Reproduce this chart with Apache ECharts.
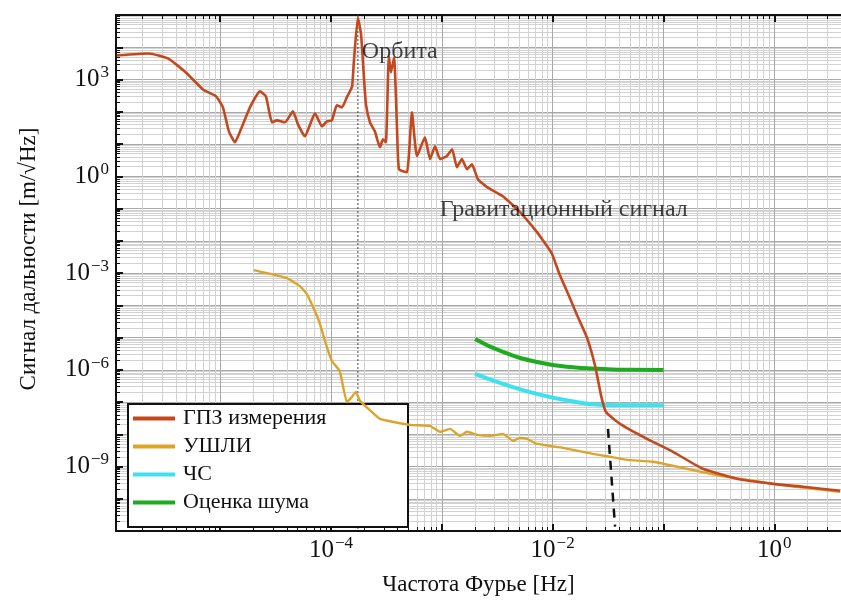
<!DOCTYPE html>
<html><head><meta charset="utf-8">
<script src="https://cdn.jsdelivr.net/npm/echarts@6/dist/echarts.min.js"></script>
<style>html,body{margin:0;padding:0;background:#fff}#c{width:841px;height:601px}</style>
</head><body><div id="c"></div>
<script>
// ---- data ----
const gpzFreq = [1.17e-6, 2.28e-6, 3.38e-6, 4.91e-6, 7.0e-6, 9.2e-6, 1.06e-5, 1.2e-5, 1.36e-5, 1.54e-5, 1.86e-5, 2.29e-5, 2.59e-5, 2.94e-5, 3.26e-5, 3.85e-5, 4.54e-5, 5.04e-5, 5.82e-5, 7.18e-5, 8.3e-5, 9.2e-5, 1.02e-4, 1.13e-4, 1.26e-4, 1.39e-4, 1.55e-4, 1.61e-4, 1.75e-4, 1.87e-4, 1.99e-4, 2.07e-4, 2.25e-4, 2.49e-4, 2.77e-4, 2.94e-4, 3.13e-4, 3.33e-4, 3.48e-4, 3.71e-4, 3.95e-4, 4.11e-4, 4.85e-4, 5.38e-4, 5.97e-4, 7.05e-4, 7.83e-4, 8.69e-4, 9.64e-4, 1.11e-3, 1.24e-3, 1.37e-3, 1.52e-3, 1.69e-3, 1.87e-3, 2.12e-3, 2.56e-3, 3.56e-3, 5.08e-3, 7.23e-3, 8.5e-3, 9.89e-3, 1.15e-2, 1.4e-2, 1.66e-2, 2.04e-2, 2.42e-2, 2.74e-2, 3.03e-2, 4.06e-2, 7.11e-2, 0.122, 0.227, 0.461, 0.975, 1.82, 3.93];
const gpzVal = [5.6e3, 6.4e3, 4.5e3, 1.66e3, 493, 300, 137, 24.7, 11.3, 28.5, 137, 428, 300, 47, 54, 47, 103, 40.7, 17.3, 89, 35.3, 50, 54, 158, 137, 279, 611, 3.6e3, 8.4e4, 2.5e4, 1.0e3, 170, 47, 24.7, 7.9, 14, 11.3, 5.2e3, 1.66e3, 4.8e3, 28.5, 1.65, 1.33, 96, 4.2, 16.1, 3.4, 8.5, 3.4, 4.2, 6.9, 1.9, 3.4, 1.65, 2.35, 0.81, 0.46, 0.24, 0.077, 0.0185, 8.5e-3, 3.9e-3, 9.5e-4, 2.0e-4, 5.0e-5, 1.0e-5, 1.31e-6, 1.55e-7, 4.9e-8, 2.1e-8, 7.2e-9, 2.85e-9, 8.5e-10, 4.2e-10, 2.9e-10, 2.35e-10, 1.77e-10];

const ushliFreq = [2.02e-5, 4.01e-5, 5.25e-5, 6.07e-5, 7.03e-5, 7.96e-5, 9.0e-5, 1.02e-4, 1.2e-4, 1.39e-4, 1.52e-4, 1.68e-4, 1.83e-4, 2.77e-4, 5.16e-4, 7.83e-4, 9.64e-4, 1.19e-3, 1.46e-3, 1.69e-3, 2.08e-3, 2.72e-3, 3.56e-3, 4.40e-3, 5.08e-3, 5.87e-3, 7.23e-3, 1.24e-2, 2.32e-2, 3.3e-2, 4.69e-2, 8.05e-2, 0.163, 0.324, 0.644, 1.31, 3.93];
const ushliVal = [1.23e-3, 6.95e-4, 3.93e-4, 2.22e-4, 7.6e-5, 2.62e-5, 6.3e-6, 1.87e-6, 9.2e-7, 1.0e-7, 1.34e-7, 2.06e-7, 1.08e-7, 3.0e-8, 1.95e-8, 1.82e-8, 1.19e-8, 1.47e-8, 8.9e-9, 1.19e-8, 9.6e-9, 8.9e-9, 1.03e-8, 6.25e-9, 7.7e-9, 7.2e-9, 5.0e-9, 3.8e-9, 2.47e-9, 2.0e-9, 1.61e-9, 1.4e-9, 8.5e-10, 5.15e-10, 3.6e-10, 2.52e-10, 1.65e-10];

const estFreq = [2e-3, 3.56e-3, 7.23e-3, 1.44e-2, 2.85e-2, 5e-2, 0.1];
const noiseVal = [9.0e-6, 3.56e-6, 1.74e-6, 1.22e-6, 1.06e-6, 1.0e-6, 9.9e-7];
const chsVal = [7.4e-7, 3.63e-7, 1.78e-7, 1.08e-7, 8.1e-8, 8.0e-8, 8.0e-8];

const orbitFreq = [1.75e-4, 1.75e-4];
const orbitVal = [1e5, 1e-11];
const cutFreq = [0.0316, 0.0366];
const cutVal = [1.47e-8, 1.36e-11];

const seriesNames = ['ГПЗ измерения', 'УШЛИ', 'ЧС', 'Оценка шума'];
const annotations = [
  {text: 'Орбита', freq: 1.9e-4, val: 7.4e3},
  {text: 'Гравитационный сигнал', freq: 9.6e-4, val: 0.095}
];

const xMin = 1.15e-6, xMax = 4.0, yMin = 1e-11, yMax = 1e5;
const xMajorTicks = [1e-6, 1e-5, 1e-4, 1e-3, 1e-2, 1e-1, 1];
const xLabelTicks = [1e-4, 1e-2, 1];
const yMajorTicks = [1e-11, 1e-10, 1e-9, 1e-8, 1e-7, 1e-6, 1e-5, 1e-4, 1e-3, 1e-2, 1e-1, 1, 1e1, 1e2, 1e3, 1e4, 1e5];
const yLabelTicks = [1e-9, 1e-6, 1e-3, 1, 1e3];

function minorTicks(lo, hi, eLo, eHi) {
  const out = [];
  for (let e = eLo; e <= eHi; e++) {
    for (let m = 2; m <= 9; m++) {
      const v = m * Math.pow(10, e);
      if (v >= lo && v <= hi) out.push(v);
    }
  }
  return out;
}
const xMinorTicks = minorTicks(xMin, xMax, -6, 0);
const yMinorTicks = minorTicks(yMin, yMax, -11, 4);

// ---- chart ----
const SERIF = '"Liberation Serif", "DejaVu Serif", serif';
const COLORS = ['#c4481e', '#dca52a', '#3ee2ef', '#1fab1f'];

function powLabel(v) {
  const e = Math.round(Math.log10(v));
  const s = e < 0 ? '\u2212' + (-e) : String(e);
  return '{b|10}{s|' + s + '}';
}
const richLbl = {
  b: {fontSize: 25, fontFamily: SERIF, color: '#111'},
  s: {fontSize: 17, fontFamily: SERIF, color: '#111', padding: [0, 0, 13, 1]}
};

function xAxisDef(pos, major) {
  return {
    type: 'log', position: pos, min: xMin, max: xMax, gridIndex: 0,
    axisLine: {show: major, lineStyle: {color: '#111', width: 2}},
    axisTick: {show: true, inside: true, length: major ? 7 : 4,
      customValues: major ? xMajorTicks : xMinorTicks,
      lineStyle: {color: '#111', width: major ? 2 : 1}},
    minorTick: {show: false},
    splitLine: {show: pos === 'bottom', lineStyle: {color: major ? '#a9a9a9' : '#d2d2d2', width: 1}},
    minorSplitLine: {show: false},
    axisLabel: major && pos === 'bottom' ? {
      show: true, customValues: xLabelTicks, formatter: powLabel, rich: richLbl, margin: 4
    } : {show: false},
    name: major && pos === 'bottom' ? 'Частота Фурье [Hz]' : '',
    nameLocation: 'middle', nameGap: 42,
    nameTextStyle: {fontFamily: SERIF, fontSize: 23, color: '#111'}
  };
}
function yAxisDef(major) {
  return {
    type: 'log', position: 'left', min: yMin, max: yMax, gridIndex: 0,
    axisLine: {show: major, lineStyle: {color: '#111', width: 2}},
    axisTick: {show: true, inside: true, length: major ? 7 : 4,
      customValues: major ? yMajorTicks : yMinorTicks,
      lineStyle: {color: '#111', width: major ? 2 : 1}},
    minorTick: {show: false},
    splitLine: {show: true, lineStyle: {color: major ? '#a9a9a9' : '#d2d2d2', width: 1}},
    minorSplitLine: {show: false},
    axisLabel: major ? {
      show: true, customValues: yLabelTicks, formatter: powLabel, rich: richLbl, margin: 7
    } : {show: false},
    name: major ? 'Сигнал дальности [m/√Hz]' : '',
    nameLocation: 'middle', nameGap: 76, nameRotate: 90,
    nameTextStyle: {fontFamily: SERIF, fontSize: 23, color: '#111', padding: [0, 0, 0, 28]}
  };
}

function zip(a, b) { return a.map((v, i) => [v, b[i]]); }

const chart = echarts.init(document.getElementById('c'), null, {renderer: 'canvas'});
chart.setOption({
  backgroundColor: '#fff',
  animation: false,
  grid: {left: 116, top: 15, right: 0, bottom: 69, containLabel: false},
  xAxis: [xAxisDef('bottom', false), xAxisDef('bottom', true), xAxisDef('top', false), xAxisDef('top', true)],
  yAxis: [yAxisDef(false), yAxisDef(true)],
  legend: {
    data: seriesNames, orient: 'vertical', left: 128, top: 404,
    icon: 'rect', itemWidth: 42, itemHeight: 4, itemGap: 5,
    backgroundColor: '#fff', borderColor: '#111', borderWidth: 2, borderRadius: 0,
    padding: [3, 8, 13, 5],
    textStyle: {fontFamily: SERIF, fontSize: 22, color: '#111', lineHeight: 23, width: 217, padding: [0, 0, 0, 3]}
  },
  series: [
    {name: 'orbitLine', type: 'line', xAxisIndex: 1, yAxisIndex: 1, data: zip(orbitFreq, orbitVal),
      symbol: 'none', silent: true, lineStyle: {color: '#444', width: 1, type: [2, 2]}, z: 3},
    {name: seriesNames[0], type: 'line', xAxisIndex: 1, yAxisIndex: 1, data: zip(gpzFreq, gpzVal),
      symbol: 'none', smooth: 0.15, color: COLORS[0], lineStyle: {color: COLORS[0], width: 2.6}, z: 5},
    {name: seriesNames[1], type: 'line', xAxisIndex: 1, yAxisIndex: 1, data: zip(ushliFreq, ushliVal),
      symbol: 'none', smooth: 0.1, color: COLORS[1], lineStyle: {color: COLORS[1], width: 2.4}, z: 4},
    {name: seriesNames[2], type: 'line', xAxisIndex: 1, yAxisIndex: 1, data: zip(estFreq, chsVal),
      symbol: 'none', smooth: true, color: COLORS[2], lineStyle: {color: COLORS[2], width: 4}, z: 4},
    {name: seriesNames[3], type: 'line', xAxisIndex: 1, yAxisIndex: 1, data: zip(estFreq, noiseVal),
      symbol: 'none', smooth: true, color: COLORS[3], lineStyle: {color: COLORS[3], width: 4}, z: 4},
    {name: 'cutLine', type: 'line', xAxisIndex: 1, yAxisIndex: 1, data: zip(cutFreq, cutVal),
      symbol: 'none', silent: true, lineStyle: {color: '#111', width: 2.5, type: [9, 7]}, z: 6},
    {name: 'notes', type: 'scatter', xAxisIndex: 1, yAxisIndex: 1, silent: true,
      data: annotations.map(a => ({value: [a.freq, a.val], name: a.text})),
      symbolSize: 0, z: 7,
      label: {show: true, position: 'right', distance: 0, formatter: p => p.name,
        fontFamily: SERIF, fontSize: 24, color: '#111'}}
  ]
});
</script></body></html>
